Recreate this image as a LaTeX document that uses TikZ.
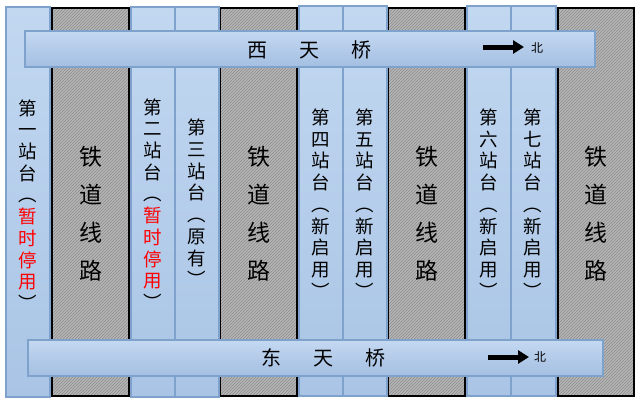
\documentclass[tikz,border=0pt]{standalone}
\usepackage{fontspec}
\setmainfont{Noto Sans CJK SC}
\usetikzlibrary{patterns,arrows.meta}
\definecolor{platfill}{HTML}{B8D0EC}
\definecolor{plattop}{HTML}{C2D8F1}
\definecolor{platbot}{HTML}{A9C4E5}
\definecolor{platline}{HTML}{7FA2CC}
\definecolor{trackfill}{HTML}{B6B6B6}
\definecolor{trackhatch}{HTML}{8C8C8C}
\definecolor{bridgetop}{HTML}{C4D8F1}
\definecolor{bridgebot}{HTML}{A4BFE2}
\definecolor{stopred}{HTML}{FF0000}
\begin{document}
\begin{tikzpicture}[x=1pt,y=-1pt,
  platform/.style={draw=platline, line width=1.4pt, top color=plattop, bottom color=platbot, minimum width=44pt, minimum height=390pt, inner sep=0pt, outer sep=0pt},
  track/.style={draw=black, line width=1.4pt, preaction={fill=trackfill}, pattern=north east lines, pattern color=trackhatch, minimum width=77pt, minimum height=388pt, inner sep=0pt, outer sep=0pt},
  bridge/.style={draw=platline, line width=1.4pt, top color=bridgetop, bottom color=bridgebot, inner sep=0pt, outer sep=0pt},
  ptext/.style={font=\fontsize{18.5}{21.7}\selectfont, align=center, inner sep=0pt},
  ttext/.style={font=\fontsize{23}{38}\selectfont, align=center, inner sep=0pt},
  btext/.style={font=\fontsize{20}{24}\selectfont, inner sep=0pt},
  ntext/.style={font=\fontsize{12}{14}\selectfont, inner sep=0pt},
  northarrow/.style={line width=5pt, -{Triangle[length=11pt,width=13pt]}}
]
\useasboundingbox (0,0) rectangle (640,402);
% tracks
\node[track, minimum width=77pt] (t1) at (90.5,202) {};
\node[track] (t2) at (258.5,202) {};
\node[track] (t3) at (426.5,202) {};
\node[track, minimum width=76pt] (t4) at (596,202) {};
% platforms
\node[platform] (p1) at (28,202) {};
\node[platform] (p2) at (153,202) {};
\node[platform] (p3) at (197,202) {};
\node[platform] (p4) at (321,201) {};
\node[platform] (p5) at (365,201) {};
\node[platform] (p6) at (489,201) {};
\node[platform, minimum width=45pt] (p7) at (533.5,201) {};
% track labels
\foreach \t/\x in {1/90.5,2/258.5,3/426.5,4/596}{
  \node[ttext] (tl\t) at (\x,214) {铁\\道\\线\\路};
}
% platform labels
\node[ptext] (pl1) at (28,205) {第\\一\\站\\台\\︵\\\textcolor{stopred}{暂}\\\textcolor{stopred}{时}\\\textcolor{stopred}{停}\\\textcolor{stopred}{用}\\︶};
\node[ptext] (pl2) at (153,204) {第\\二\\站\\台\\︵\\\textcolor{stopred}{暂}\\\textcolor{stopred}{时}\\\textcolor{stopred}{停}\\\textcolor{stopred}{用}\\︶};
\node[ptext] (pl3) at (197,203) {第\\三\\站\\台\\︵\\原\\有\\︶};
\node[ptext] (pl4) at (321,203.5) {第\\四\\站\\台\\︵\\新\\启\\用\\︶};
\node[ptext] (pl5) at (365,203.5) {第\\五\\站\\台\\︵\\新\\启\\用\\︶};
\node[ptext] (pl6) at (489,203.5) {第\\六\\站\\台\\︵\\新\\启\\用\\︶};
\node[ptext] (pl7) at (533,203.5) {第\\七\\站\\台\\︵\\新\\启\\用\\︶};
% bridges
\node[bridge, minimum width=570pt, minimum height=36pt] (wb) at (310,49) {};
\node[bridge, minimum width=575pt, minimum height=36pt] (eb) at (315.5,358) {};
\node[btext] (wbl) at (309.5,50) {西\hspace{32pt}天\hspace{32pt}桥};
\node[btext] (ebl) at (323.5,358) {东\hspace{32pt}天\hspace{32pt}桥};
% north arrows
\coordinate (wa1) at (483,47);
\coordinate (wa2) at (524,47);
\draw[northarrow] (wa1) -- (wa2);
\node[ntext] (wn) at (537,48) {北};
\coordinate (ea1) at (488,357);
\coordinate (ea2) at (529,357);
\draw[northarrow] (ea1) -- (ea2);
\node[ntext] (en) at (540,357) {北};
\end{tikzpicture}
\end{document}
